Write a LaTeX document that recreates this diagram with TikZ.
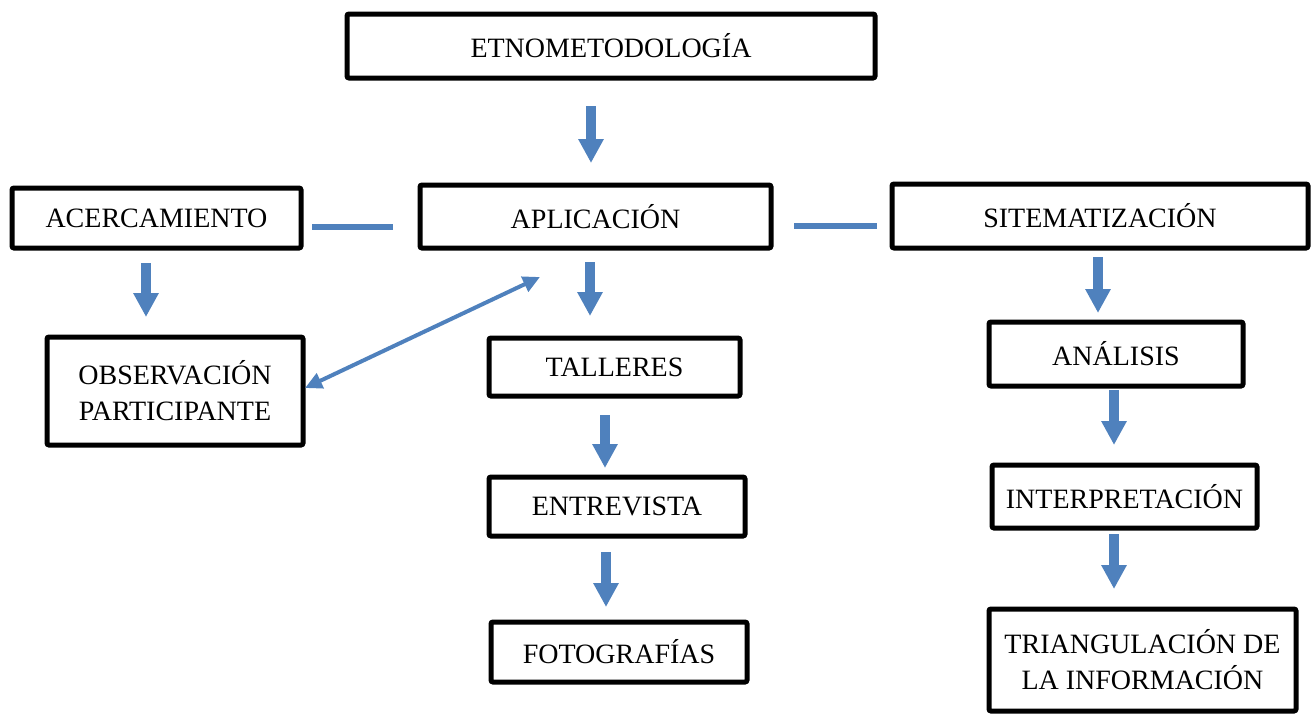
\documentclass[tikz,border=0pt]{standalone}
\usepackage{fontspec}
\setmainfont{Liberation Serif}
\usetikzlibrary{arrows.meta}
\definecolor{arrblue}{HTML}{4F81BD}
\tikzset{
  box/.style={draw=black, line width=5pt, rounded corners=2pt, inner sep=0pt,
    align=center, font=\fontsize{28}{36}\selectfont, fill=white},
  blk/.style={arrblue, line width=10pt, -{Triangle[width=24pt,length=24pt]}},
  lnk/.style={arrblue, line width=6pt},
  dbl/.style={arrblue, line width=4pt, {Triangle[width=16pt,length=17pt]}-{Triangle[width=16pt,length=17pt]}}
}
\begin{document}
\begin{tikzpicture}[x=1pt,y=-1pt]
\useasboundingbox (0,0) rectangle (1312,715);
\node[box, minimum width=528pt, minimum height=64pt] (etno) at (611,46) {ETNOMETODOLOGÍA};
\node[box, minimum width=289pt, minimum height=60pt] (acer) at (156.5,218) {ACERCAMIENTO};
\node[box, minimum width=351pt, minimum height=63pt] (apli) at (595.5,216.5) {APLICACIÓN};
\node[box, minimum width=416pt, minimum height=64pt] (sist) at (1100,216) {SITEMATIZACIÓN};
\node[box, minimum width=256pt, minimum height=108pt] (obs) at (175,391) {OBSERVACIÓN\\PARTICIPANTE};
\node[box, minimum width=251pt, minimum height=58pt] (tall) at (614.5,367) {TALLERES};
\node[box, minimum width=256pt, minimum height=59pt] (entr) at (617,506.5) {ENTREVISTA};
\node[box, minimum width=256pt, minimum height=60pt] (foto) at (619,652) {FOTOGRAFÍAS};
\node[box, minimum width=254pt, minimum height=64pt] (anal) at (1116,354) {ANÁLISIS};
\node[box, minimum width=265pt, minimum height=63pt] (interp) at (1124.5,496.5) {INTERPRETACIÓN};
\node[box, minimum width=307pt, minimum height=102pt] (tri) at (1142.5,660) {TRIANGULACIÓN DE\\LA INFORMACIÓN};

\coordinate (e1) at (591,106); \coordinate (e2) at (591,163);
\coordinate (a1) at (146,263); \coordinate (a2) at (146,317);
\coordinate (p1) at (590,262); \coordinate (p2) at (590,316);
\coordinate (t1) at (605,415); \coordinate (t2) at (605,468);
\coordinate (n1) at (606,552); \coordinate (n2) at (606,607);
\coordinate (s1) at (1098,257); \coordinate (s2) at (1098,313);
\coordinate (i1) at (1114,390); \coordinate (i2) at (1114,445);
\coordinate (r1) at (1114,534); \coordinate (r2) at (1114,589);
\coordinate (l1) at (312,227); \coordinate (l2) at (393,227);
\coordinate (m1) at (794,226); \coordinate (m2) at (877,226);
\coordinate (d1) at (305,388); \coordinate (d2) at (540,277);

\draw[blk] (e1) -- (e2);
\draw[blk] (a1) -- (a2);
\draw[blk] (p1) -- (p2);
\draw[blk] (t1) -- (t2);
\draw[blk] (n1) -- (n2);
\draw[blk] (s1) -- (s2);
\draw[blk] (i1) -- (i2);
\draw[blk] (r1) -- (r2);
\draw[lnk] (l1) -- (l2);
\draw[lnk] (m1) -- (m2);
\draw[dbl] (d1) -- (d2);
\end{tikzpicture}
\end{document}
